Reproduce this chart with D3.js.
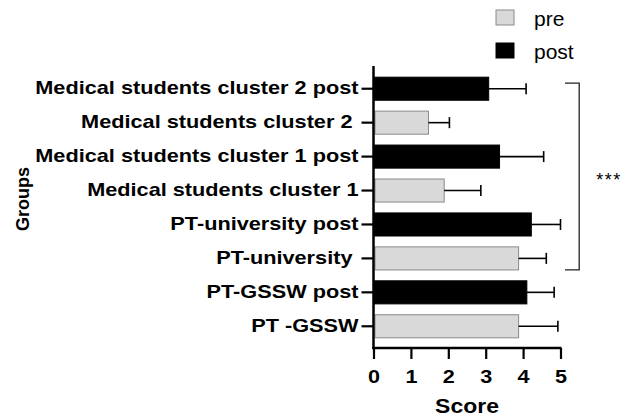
<!DOCTYPE html>
<html>
<head>
<meta charset="utf-8">
<script src="https://cdn.jsdelivr.net/npm/d3@7"></script>
<style>
  body { margin: 0; background: #fff; }
  text { font-family: "Liberation Sans", Arial, sans-serif; fill: #000; white-space: pre; }
</style>
</head>
<body>
<div class="chart"></div>
<script>
// groups, top to bottom as drawn
var groups = [
  'Medical students cluster 2 post',
  'Medical students cluster 2 ',
  'Medical students cluster 1 post',
  'Medical students cluster 1',
  'PT-university post',
  'PT-university ',
  'PT-GSSW post',
  'PT -GSSW'
];
var phase = ['post', 'pre', 'post', 'pre', 'post', 'pre', 'post', 'pre'];
var means = [3.08, 1.47, 3.37, 1.89, 4.22, 3.88, 4.10, 3.88];
var errs  = [1.00, 0.56, 1.18, 0.98, 0.78, 0.74, 0.73, 1.05];
var xTicks = [0, 1, 2, 3, 4, 5];
var legendKeys = ['pre', 'post'];

var colors = { pre: '#d9d9d9', post: '#000' };
var strokes = { pre: '#8a8a8a', post: '#000' };

var W = 635, H = 420;
var margin = { top: 67, left: 373.5 };
var width = 187, height = 281;
// the original figure is stretched sideways, so text is too
var SX = 1.22;

var svg = d3.select('.chart')
  .append('svg')
    .attr('width', W)
    .attr('height', H)
  .append('g')
    .attr('transform', `translate(${margin.left}, ${margin.top})`);

var x = d3.scaleLinear().domain([0, 5]).range([0, width]);
var y = d3.scaleBand().domain(groups).range([0, height])
  .paddingInner(0.32).paddingOuter(0.3);

var data = groups.map((g, i) => ({ g: g, phase: phase[i], mean: means[i], err: errs[i] }));

// bars
svg.selectAll('.bar')
  .data(data)
  .enter()
  .append('rect')
    .attr('class', 'bar')
    .attr('x', d => x(0) + (d.phase === 'pre' ? 1.5 : 0))
    .attr('y', d => y(d.g))
    .attr('width', d => x(d.mean) - x(0) - (d.phase === 'pre' ? 1.5 : 0))
    .attr('height', y.bandwidth())
    .style('fill', d => colors[d.phase])
    .style('stroke', d => strokes[d.phase])
    .style('stroke-width', 1);

// error bars (upper side only)
var eb = svg.selectAll('.err')
  .data(data)
  .enter()
  .append('g')
    .attr('class', 'err')
    .attr('transform', d => `translate(0, ${y(d.g) + y.bandwidth() / 2})`);
eb.append('line')
  .attr('x1', d => x(d.mean))
  .attr('x2', d => x(d.mean + d.err))
  .style('stroke', '#000').style('stroke-width', 1.6);
eb.append('line')
  .attr('x1', d => x(d.mean + d.err))
  .attr('x2', d => x(d.mean + d.err))
  .attr('y1', -5.5).attr('y2', 5.5)
  .style('stroke', '#000').style('stroke-width', 1.6);

// y axis
var yAxis = svg.append('g')
  .call(d3.axisLeft(y).tickSize(12).tickSizeOuter(0).tickPadding(3));
yAxis.select('.domain').style('stroke-width', 2.5).attr('d', `M0,-1V${height + 1}`);
yAxis.selectAll('.tick line').style('stroke-width', 2.2);
yAxis.selectAll('.tick text')
  .attr('x', -15 / SX)
  .attr('transform', `scale(${SX},1)`)
  .style('font-size', '17.8px')
  .style('font-weight', 'bold')
  .style('font-family', '"Liberation Sans", Arial, sans-serif')
  .style('fill', '#000');

// x axis
var xAxis = svg.append('g')
  .attr('transform', `translate(0, ${height})`)
  .call(d3.axisBottom(x).tickValues(xTicks).tickFormat(d3.format('d'))
    .tickSize(11).tickSizeOuter(0).tickPadding(11));
xAxis.select('.domain').style('stroke-width', 2.5).attr('d', `M-1.25,0H${width + 1}`);
xAxis.selectAll('.tick line').style('stroke-width', 2.2);
xAxis.selectAll('.tick text')
  .attr('transform', 'scale(1.2,1)')
  .style('font-size', '18px')
  .style('font-weight', 'bold')
  .style('font-family', '"Liberation Sans", Arial, sans-serif')
  .style('fill', '#000');

// axis titles
svg.append('text')
  .attr('transform', `translate(${x(2.5)}, ${height + 65}) scale(1.12,1)`)
  .attr('text-anchor', 'middle')
  .style('font-size', '20.5px')
  .style('font-weight', 'bold')
  .text('Score');

svg.append('text')
  .attr('transform', `translate(${29 - margin.left}, ${199 - margin.top}) rotate(-90)`)
  .attr('text-anchor', 'middle')
  .style('font-size', '18px')
  .style('font-weight', 'bold')
  .text('Groups');

// significance bracket over the first six groups
var bTop = y(groups[0]) + y.bandwidth() * 0.26;
var bBot = y(groups[5]) + y.bandwidth();
var bx = x(5.5), bArm = x(5.12);
svg.append('path')
  .attr('d', `M${bArm},${bTop}H${bx}V${bBot}H${bArm}`)
  .style('fill', 'none')
  .style('stroke', '#222')
  .style('stroke-width', 1.3);
svg.append('text')
  .attr('x', x(6.3))
  .attr('y', (bTop + bBot) / 2 + 9)
  .attr('text-anchor', 'middle')
  .style('font-size', '18px')
  .style('letter-spacing', '1.5px')
  .text('***');

// legend
var legend = d3.select('svg').append('g')
  .selectAll('g')
  .data(legendKeys)
  .enter()
  .append('g')
    .attr('transform', (d, i) => `translate(496, ${10 + i * 33})`);
legend.append('rect')
  .attr('width', 18).attr('height', 15)
  .style('fill', d => colors[d])
  .style('stroke', d => strokes[d]);
legend.append('text')
  .attr('x', 38).attr('y', 16)
  .style('font-size', '21px')
  .text(d => d);
</script>
</body>
</html>
